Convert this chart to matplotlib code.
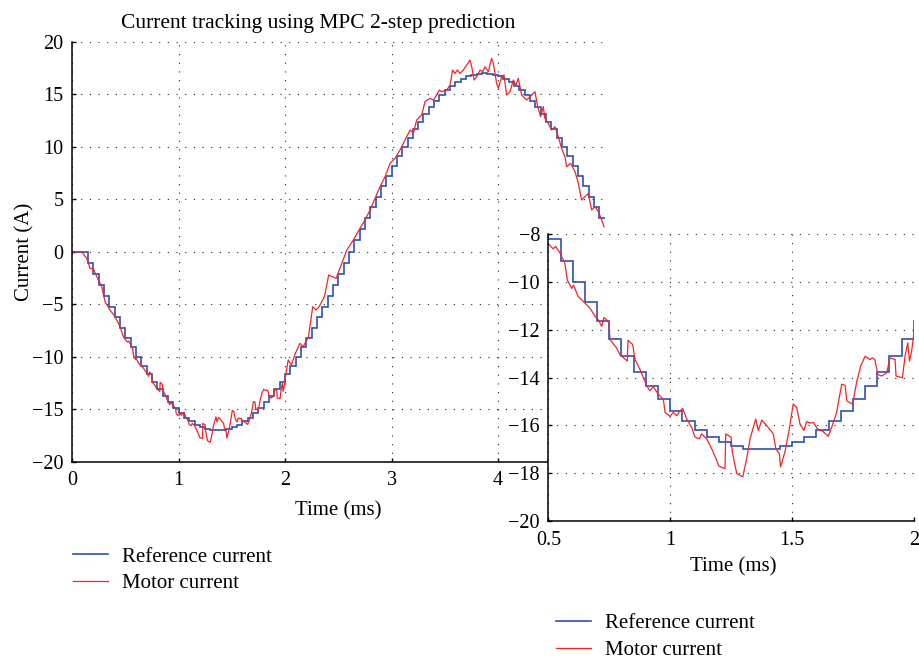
import numpy as np
import matplotlib
matplotlib.use('Agg')
import matplotlib.pyplot as plt

# reference current (A), held for 0.05 ms per sample, starting at t = 0
ref_current = [
    0.00, 0.00, 0.00,
    -1.07, -2.13, -3.19, -4.23, -5.25, -6.26, -7.24, -8.19, -9.11, -9.99,
    -10.84, -11.64, -12.39, -13.10, -13.75, -14.35, -14.90, -15.38, -15.81,
    -16.17, -16.47, -16.70, -16.87, -16.97, -17.00,
    -16.97, -16.87, -16.70, -16.47, -16.17, -15.81, -15.38, -14.90, -14.35,
    -13.75, -13.10, -12.39, -11.64, -10.84, -9.99, -9.11, -8.19, -7.24,
    -6.26, -5.25, -4.23, -3.19, -2.13, -1.07, 0.00,
    1.07, 2.13, 3.19, 4.23, 5.25, 6.26, 7.24, 8.19, 9.11, 9.99, 10.84,
    11.64, 12.39, 13.10, 13.75, 14.35, 14.90, 15.38, 15.81, 16.17, 16.47,
    16.70, 16.87, 16.97, 17.00,
    16.97, 16.87, 16.70, 16.47, 16.17, 15.81, 15.38, 14.90, 14.35, 13.75,
    13.10, 12.39, 11.64, 10.84, 9.99, 9.11, 8.19, 7.24, 6.26, 5.25, 4.23, 3.19,
]
ref_edges = np.arange(len(ref_current) + 1) * 0.05

motor_t = [
    0.000, 0.090, 0.138, 0.169, 0.200, 0.232, 0.279, 0.310, 0.357, 0.404,
    0.451, 0.482,
    0.500, 0.520, 0.530, 0.548, 0.568, 0.578, 0.596, 0.603, 0.623, 0.644,
    0.671, 0.692, 0.705, 0.719, 0.728, 0.739, 0.749, 0.753, 0.780, 0.794,
    0.824, 0.827, 0.846, 0.856, 0.876, 0.904, 0.917, 0.931, 0.951, 0.972,
    0.979, 0.999, 1.013, 1.027, 1.038, 1.051, 1.068, 1.088, 1.102, 1.120,
    1.129, 1.150, 1.177, 1.200, 1.225, 1.228, 1.250, 1.255, 1.273, 1.298,
    1.314, 1.328, 1.351, 1.362, 1.376, 1.396, 1.423, 1.434, 1.448, 1.453,
    1.471, 1.489, 1.505, 1.519, 1.533, 1.549, 1.560, 1.577, 1.588, 1.604,
    1.626, 1.649, 1.663, 1.683, 1.704, 1.718, 1.725, 1.749, 1.765, 1.782,
    1.800, 1.820, 1.830, 1.840, 1.852, 1.868, 1.889, 1.902, 1.923, 1.927,
    1.953, 1.964, 1.975, 1.982, 1.991, 2.000,
    2.030, 2.060, 2.090, 2.140, 2.170, 2.220, 2.260, 2.290, 2.320, 2.370,
    2.410, 2.480, 2.520,
    2.580, 2.641, 2.704, 2.751, 2.798, 2.845, 2.892, 2.939, 2.986, 3.033,
    3.080, 3.111, 3.142, 3.174, 3.205, 3.236, 3.283, 3.314, 3.361, 3.393,
    3.424, 3.449, 3.471, 3.518, 3.549, 3.574, 3.596, 3.618, 3.643, 3.674,
    3.706, 3.737, 3.753, 3.775, 3.800, 3.831, 3.856, 3.878, 3.909, 3.940,
    3.956, 3.987, 4.003, 4.034, 4.056, 4.081, 4.112, 4.144, 4.169, 4.190,
    4.222, 4.269, 4.316, 4.347, 4.369, 4.400, 4.425, 4.440, 4.472, 4.503,
    4.535, 4.566, 4.597, 4.628, 4.644, 4.682, 4.723, 4.754, 4.785, 4.817,
    4.848, 4.879, 4.911, 4.942, 4.973, 4.995,
]
motor_i = [
    0.00, 0.00, -0.63, -1.59, -1.59, -2.38, -3.33, -4.76, -5.56, -6.19,
    -7.14, -8.10,
    -8.39, -8.60, -8.50, -8.78, -9.22, -9.91, -10.26, -10.12, -10.60, -10.81,
    -11.09, -11.43, -11.57, -11.85, -11.48, -11.57, -11.71, -12.40, -12.75, -13.03,
    -13.30, -12.43, -12.61, -13.24, -13.65, -14.34, -14.55, -14.37, -14.69, -14.90,
    -15.45, -15.62, -15.45, -15.59, -15.42, -15.28, -15.73, -16.07, -16.49, -16.56,
    -16.35, -16.56, -17.11, -17.70, -17.81, -16.35, -16.49, -17.11, -18.01, -18.15,
    -17.39, -16.56, -15.73, -16.21, -15.77, -16.00, -16.35, -16.98, -17.18, -17.74,
    -17.11, -16.14, -15.10, -15.24, -15.94, -16.21, -15.84, -15.90, -15.87, -16.14,
    -16.24, -16.45, -16.07, -15.45, -14.27, -14.32, -14.97, -15.10, -14.20, -13.51,
    -13.10, -13.24, -13.17, -13.24, -13.86, -13.93, -13.79, -13.17, -13.24, -13.93,
    -14.00, -13.10, -12.54, -13.30, -12.89, -12.13,
    -10.31, -10.79, -9.84, -8.73, -9.05, -8.10, -5.24, -5.55, -5.24, -4.28,
    -2.22, -2.54, -1.43,
    0.16, 1.11, 2.22, 3.02, 3.97, 5.08, 6.19, 7.14, 8.41, 8.89,
    9.69, 10.32, 10.95, 11.59, 11.27, 12.54, 13.02, 14.29, 14.60, 14.44,
    14.92, 15.40, 15.24, 15.40, 15.87, 17.30, 16.98, 17.30, 16.98, 17.30,
    17.78, 18.25, 17.62, 16.35, 16.67, 17.30, 17.14, 17.62, 17.14, 18.41,
    17.94, 16.03, 15.56, 16.67, 16.83, 14.92, 15.24, 16.35, 15.87, 16.51,
    14.92, 14.44, 14.92, 15.24, 13.97, 12.86, 13.81, 12.70, 12.22, 11.59,
    11.90, 10.95, 9.84, 9.05, 8.10, 8.41, 7.62, 6.51, 4.92, 5.24,
    5.56, 3.97, 4.29, 3.81, 3.02, 2.38,
]

BLUE = '#3050b0'
RED = '#f42424'

plt.rcParams['font.family'] = ['Liberation Serif', 'DejaVu Serif']
plt.rcParams['font.size'] = 14


def style_axes(ax, xticks, yticks):
    for side in ('top', 'right'):
        ax.spines[side].set_visible(False)
    for side in ('left', 'bottom'):
        ax.spines[side].set_linewidth(1.1)
    ax.set_xticks(xticks)
    ax.set_yticks(yticks)
    ax.tick_params(direction='in', length=3, width=1, labelsize=14.5)
    ax.tick_params(axis='y', pad=6)
    ax.tick_params(axis='x', pad=7)
    ax.set_axisbelow(True)
    ax.grid(True, color='#222222', linestyle=(0, (1, 6.8)), linewidth=0.8)


def draw_traces(ax):
    ref = ax.stairs(ref_current, ref_edges, baseline=None, color=BLUE,
                    lw=1.2, label='Reference current')
    motor, = ax.plot(motor_t, motor_i, color=RED, lw=0.9, label='Motor current')
    return [ref, motor]


fig = plt.figure(figsize=(9.2, 6.59), dpi=100)

# main view
ax = fig.add_axes([0.0783, 0.2994, 0.5788, 0.6373])
handles = draw_traces(ax)
ax.set_xlim(0, 5)
ax.set_ylim(-20, 20)
style_axes(ax, [0, 1, 2, 3, 4, 5], [-20, -15, -10, -5, 0, 5, 10, 15, 20])
ax.set_xlabel('Time (ms)', fontsize=15)
ax.xaxis.set_label_coords(0.5, -0.093)
ax.set_ylabel('Current (A)', fontsize=15)
ax.yaxis.set_label_coords(-0.070, 0.5)
fig.text(318 / 920, 0.958, 'Current tracking using MPC 2-step prediction',
         ha='center', va='baseline', fontsize=15.5)

# zoomed view around the negative peak
axz = fig.add_axes([0.596, 0.2094, 0.3973, 0.4348], facecolor='white')
handles_z = draw_traces(axz)
axz.set_xlim(0.5, 2)
axz.set_ylim(-20, -8)
style_axes(axz, [0.5, 1, 1.5, 2], [-20, -18, -16, -14, -12, -10, -8])
axz.set_xticklabels(['0.5', '1', '1.5', '2'])
axz.set_xlabel('Time (ms)', fontsize=15)
axz.xaxis.set_label_coords(0.505, -0.128)

leg_kw = dict(loc='center left', bbox_transform=fig.transFigure, frameon=False,
              borderpad=0, borderaxespad=0, handlelength=1.7,
              handletextpad=0.65, labelspacing=0.33, fontsize=15)
fig.legend(handles=handles, bbox_to_anchor=(0.0793, 0.1350), **leg_kw)
fig.legend(handles=handles_z, bbox_to_anchor=(0.6043, 0.0335), **leg_kw)

fig.savefig('out.png', dpi=100)
